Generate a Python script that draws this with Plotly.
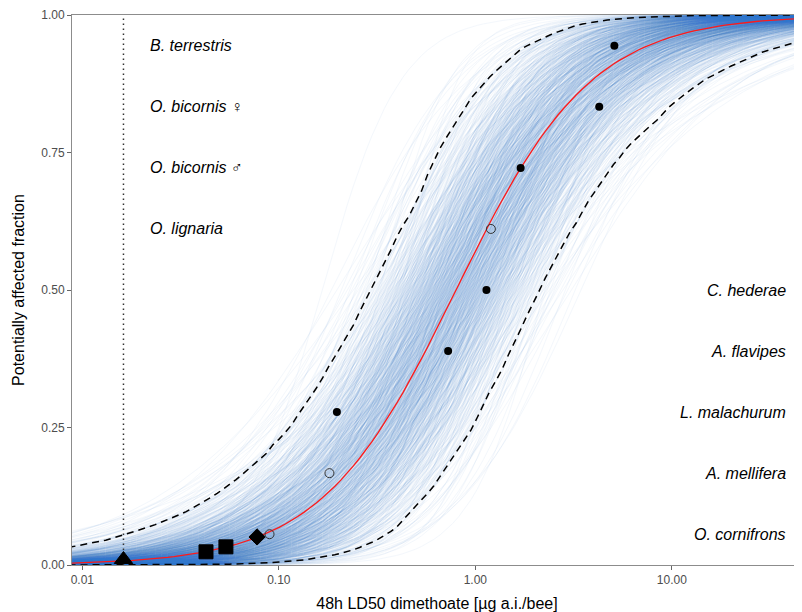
import numpy as np
import plotly.graph_objects as go
from statistics import NormalDist

# ---------------- data ----------------
# species LD50 values (µg a.i./bee) and their plotting positions
ld50 = [0.0897, 0.181, 0.1975, 0.727, 1.139, 1.20, 1.70, 4.27, 5.10]
frac = [0.056, 0.167, 0.278, 0.389, 0.500, 0.611, 0.722, 0.833, 0.944]
hollow = [True, True, False, False, False, True, False, False, False]

# additional marked values lying on the fitted curve
special_x = [0.0162, 0.0426, 0.0538, 0.0775]
special_y = [0.010, 0.024, 0.033, 0.051]
special_symbol = ["triangle-up", "square", "square", "diamond"]

exposure = 0.0162  # dotted vertical reference line

# fitted log-logistic SSD (log10 scale)
fit_location = -0.098
fit_slope = 2.9
# bootstrap spread of the fitted parameters
boot_n = 900
boot_sd_location = 0.22
boot_sd_logslope_low = 0.23
boot_sd_logslope_high = 0.30

left_species = ["<i>B. terrestris</i>", "<i>O. bicornis</i> \u2640", "<i>O. bicornis</i> \u2642", "<i>O. lignaria</i>"]
left_y = [0.944, 0.833, 0.722, 0.611]
right_species = ["<i>C. hederae</i>", "<i>A. flavipes</i>", "<i>L. malachurum</i>", "<i>A. mellifera</i>", "<i>O. cornifrons</i>"]
right_y = [0.500, 0.389, 0.278, 0.167, 0.056]

x_tickvals = [0.01, 0.1, 1, 10]
x_ticktext = ["0.01", "0.10", "1.00", "10.00"]
y_tickvals = [0, 0.25, 0.5, 0.75, 1.0]
y_ticktext = ["0.00", "0.25", "0.50", "0.75", "1.00"]

# ---------------- model curves ----------------
def loglogistic(lx, loc, slope):
    return 1.0 / (1.0 + np.exp(-slope * (lx - loc)))

def halton(i, base):
    f, r = 1.0, 0.0
    while i > 0:
        f /= base
        r += f * (i % base)
        i //= base
    return r

nd = NormalDist()
lx = np.linspace(-2.07, 1.68, 120)
xs = 10 ** lx

curves = []
for i in range(1, boot_n + 1):
    zm = nd.inv_cdf(halton(i, 2))
    zb = nd.inv_cdf(halton(i, 3))
    loc = fit_location + boot_sd_location * zm
    s = boot_sd_logslope_high if zb > 0 else boot_sd_logslope_low
    slope = fit_slope * np.exp(s * zb)
    curves.append(loglogistic(lx, loc, slope))
curves = np.array(curves)
lower = np.quantile(curves, 0.025, axis=0)
upper = np.quantile(curves, 0.975, axis=0)
fitted = loglogistic(lx, fit_location, fit_slope)

fig = go.Figure()
for c in curves:
    fig.add_trace(go.Scatter(x=xs, y=c, mode="lines",
                             line=dict(color="rgb(50,120,205)", width=1),
                             opacity=0.052, hoverinfo="skip", showlegend=False))

for band in (lower, upper):
    fig.add_trace(go.Scatter(x=xs, y=band, mode="lines",
                             line=dict(color="black", width=1.5, dash="7px,5px"),
                             hoverinfo="skip", showlegend=False))

fig.add_trace(go.Scatter(x=[exposure, exposure], y=[0, 1], mode="lines",
                         line=dict(color="#333333", width=1.5, dash="1.5px,3.5px"),
                         hoverinfo="skip", showlegend=False))

fig.add_trace(go.Scatter(x=xs, y=fitted, mode="lines",
                         line=dict(color="#ff1a1a", width=1.3),
                         hoverinfo="skip", showlegend=False))

fx = [v for v, h in zip(ld50, hollow) if not h]
fy = [v for v, h in zip(frac, hollow) if not h]
ox = [v for v, h in zip(ld50, hollow) if h]
oy = [v for v, h in zip(frac, hollow) if h]
fig.add_trace(go.Scatter(x=fx, y=fy, mode="markers",
                         marker=dict(color="#000000", size=8, opacity=1, line=dict(width=0)),
                         showlegend=False))
fig.add_trace(go.Scatter(x=ox, y=oy, mode="markers",
                         marker=dict(symbol="circle-open", color="#333333", size=9,
                                     line=dict(width=1)), showlegend=False))

sizes = {"triangle-up": 16, "square": 14, "diamond": 12.5}
fig.add_trace(go.Scatter(x=special_x, y=special_y, mode="markers",
                         marker=dict(symbol=special_symbol, color="#000000", opacity=1,
                                     size=[sizes[s] for s in special_symbol],
                                     line=dict(width=1, color="#000000")),
                         cliponaxis=False, showlegend=False))

for name, yv in zip(left_species, left_y):
    fig.add_annotation(x=0.1037, xref="paper", y=yv, yref="y", text=name,
                       showarrow=False, xanchor="left", yanchor="middle",
                       font=dict(size=16, color="black"))
for name, yv in zip(right_species, right_y):
    fig.add_annotation(x=0.981, xref="paper", y=yv, yref="y", text=name,
                       showarrow=False, xanchor="right", yanchor="middle",
                       font=dict(size=16, color="black"))

# the page body adds an 8px offset, so the figure is 8px smaller than the window
fig.update_layout(
    width=794, height=604,
    margin=dict(l=64, r=0, t=7, b=47),
    plot_bgcolor="white", paper_bgcolor="white",
    font=dict(family="Liberation Sans, Arial, sans-serif"),
    showlegend=False,
)
fig.update_xaxes(type="log", range=[-2.0524, 1.6623],
                 tickvals=x_tickvals, ticktext=x_ticktext,
                 showline=True, linecolor="#8c8c8c", linewidth=1, mirror=True,
                 ticks="outside", ticklen=4, tickcolor="#666666",
                 tickfont=dict(size=12, color="#4d4d4d"),
                 showgrid=False, zeroline=False, automargin=False,
                 title=dict(text="48h LD50 dimethoate [µg a.i./bee]",
                            font=dict(size=16, color="black"), standoff=12))
fig.update_yaxes(range=[0, 1],
                 tickvals=y_tickvals, ticktext=y_ticktext,
                 showline=True, linecolor="#8c8c8c", linewidth=1,
                 ticks="outside", ticklen=4, tickcolor="#666666",
                 tickfont=dict(size=12, color="#4d4d4d"),
                 showgrid=False, zeroline=False, automargin=False,
                 title=dict(text="Potentially affected fraction",
                            font=dict(size=16, color="black"), standoff=12))

fig.write_html("out.html")
